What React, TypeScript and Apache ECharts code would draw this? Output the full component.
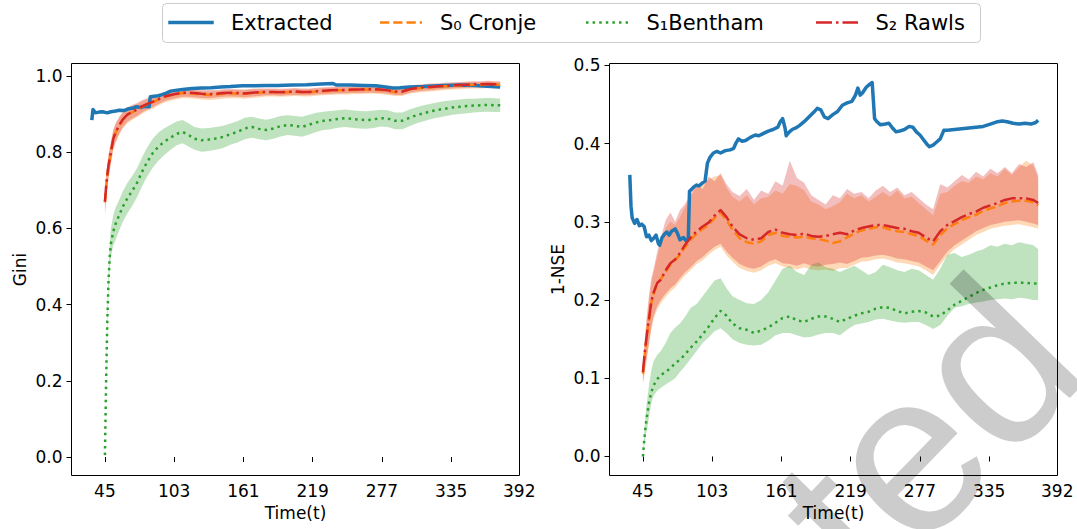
import React, { useEffect, useRef } from "react";
import * as echarts from "echarts";

// ---------------- data ----------------
const T = [45, 46, 47, 48, 49, 50,
  52, 54, 57, 60,
  64, 68, 72, 76, 80,
  85, 90, 95, 100, 105, 110, 115, 120,
  126, 132, 138, 144, 150, 156, 162, 168, 174, 180,
  186, 192, 198, 204, 210, 216, 222, 228, 234, 240,
  246, 252, 258, 264, 270, 276, 282, 288, 294, 300,
  306, 312, 318, 324, 330, 336, 342, 348, 354, 360,
  366, 372, 376];

const X_TICKS = [45, 103, 161, 219, 277, 335, 392];
const Y_TICKS_GINI = [0, 0.2, 0.4, 0.6, 0.8, 1.0];
const Y_TICKS_NSE = [0, 0.1, 0.2, 0.3, 0.4, 0.5];

// Extracted (observed) series
const EXT_T_GINI = [34, 35, 37, 40, 43, 47, 50, 54, 57, 61, 64, 68, 71, 75, 78, 82, 83, 88, 92, 96, 100, 104, 110, 118, 126, 134, 142, 150, 160, 170, 180, 190, 202, 214, 226, 236, 239, 250, 262, 272, 280, 286, 292, 300, 312, 325, 342, 355, 365, 376];
const EXT_GINI = [0.884, 0.912, 0.903, 0.905, 0.906, 0.903, 0.906, 0.908, 0.910, 0.909, 0.913, 0.915, 0.919, 0.917, 0.920, 0.919, 0.945, 0.947, 0.950, 0.954, 0.960, 0.962, 0.964, 0.967, 0.968, 0.969, 0.971, 0.972, 0.974, 0.974, 0.975, 0.975, 0.976, 0.977, 0.979, 0.980, 0.976, 0.976, 0.975, 0.974, 0.971, 0.968, 0.969, 0.971, 0.972, 0.974, 0.976, 0.975, 0.973, 0.971];

const EXT_T_NSE = [34, 35, 36, 38, 40, 42, 44, 46, 48, 50,
  52, 54, 56, 58, 59, 61, 63, 65, 67, 69,
  72, 74, 76, 79, 81, 83, 84, 86, 88, 90,
  92, 95, 97, 99, 101, 104, 107, 110, 114, 118,
  121, 123, 125, 128, 131, 135, 139, 142, 146, 150,
  154, 158, 160, 162, 164, 165, 167, 170, 173, 176,
  180, 184, 188, 191, 194, 197, 200, 204, 208, 212,
  216, 220, 223, 225, 227, 229, 232, 235, 237, 238,
  239, 241, 244, 248, 251, 254, 257, 260, 264, 268,
  271, 274, 277, 280, 283, 285, 288, 291, 294, 297,
  300, 306, 312, 318, 324, 330, 336, 342, 346, 350,
  355, 360, 365, 370, 374, 376];
const EXT_NSE = [0.360, 0.320, 0.305, 0.298, 0.303, 0.295, 0.297, 0.294, 0.281, 0.283,
  0.276, 0.279, 0.283, 0.272, 0.270, 0.280, 0.284, 0.287, 0.283, 0.288,
  0.291, 0.285, 0.277, 0.280, 0.276, 0.279, 0.339, 0.342, 0.345, 0.347,
  0.346, 0.350, 0.352, 0.375, 0.382, 0.388, 0.390, 0.388, 0.391, 0.392,
  0.394, 0.401, 0.406, 0.403, 0.404, 0.408, 0.411, 0.410, 0.413, 0.416,
  0.418, 0.421, 0.428, 0.432, 0.420, 0.410, 0.414, 0.418, 0.420, 0.423,
  0.428, 0.434, 0.440, 0.445, 0.443, 0.434, 0.432, 0.437, 0.441, 0.449,
  0.452, 0.454, 0.462, 0.471, 0.462, 0.465, 0.472, 0.476, 0.478, 0.455,
  0.432, 0.428, 0.424, 0.425, 0.426, 0.420, 0.415, 0.416, 0.418, 0.422,
  0.421, 0.415, 0.411, 0.405, 0.399, 0.396, 0.398, 0.402, 0.406, 0.417,
  0.417, 0.418, 0.419, 0.420, 0.421, 0.422, 0.425, 0.428, 0.429, 0.428,
  0.426, 0.425, 0.426, 0.425, 0.427, 0.430];

// Gini: S2 Rawls
const GINI_S2 = [0.670, 0.710, 0.740, 0.765, 0.782, 0.800,
  0.835, 0.852, 0.871, 0.886,
  0.899, 0.906, 0.912, 0.920, 0.926,
  0.932, 0.939, 0.946, 0.950, 0.953, 0.956, 0.956, 0.955,
  0.953, 0.952, 0.953, 0.955, 0.956, 0.955, 0.954, 0.956, 0.957, 0.958,
  0.958, 0.957, 0.958, 0.959, 0.958, 0.958, 0.960, 0.961, 0.962, 0.963,
  0.963, 0.964, 0.964, 0.965, 0.965, 0.964, 0.962, 0.959, 0.959, 0.965,
  0.968, 0.970, 0.971, 0.973, 0.974, 0.975, 0.976, 0.977, 0.978, 0.978,
  0.979, 0.978, 0.978];
const GINI_S2_HI = [0.700, 0.740, 0.770, 0.795, 0.810, 0.827,
  0.860, 0.876, 0.893, 0.906,
  0.918, 0.924, 0.929, 0.936, 0.941,
  0.946, 0.952, 0.958, 0.961, 0.964, 0.967, 0.967, 0.966,
  0.964, 0.963, 0.963, 0.965, 0.966, 0.965, 0.964, 0.966, 0.967, 0.967,
  0.967, 0.966, 0.967, 0.968, 0.967, 0.967, 0.969, 0.970, 0.971, 0.972,
  0.972, 0.973, 0.973, 0.974, 0.974, 0.973, 0.971, 0.968, 0.968, 0.974,
  0.977, 0.979, 0.980, 0.981, 0.982, 0.983, 0.984, 0.985, 0.986, 0.986,
  0.987, 0.986, 0.986];
const GINI_S2_LO = [0.640, 0.680, 0.710, 0.735, 0.754, 0.773,
  0.810, 0.828, 0.849, 0.866,
  0.880, 0.888, 0.895, 0.904, 0.911,
  0.918, 0.926, 0.934, 0.939, 0.942, 0.945, 0.945, 0.944,
  0.942, 0.941, 0.943, 0.945, 0.946, 0.945, 0.944, 0.946, 0.947, 0.949,
  0.949, 0.948, 0.949, 0.950, 0.949, 0.949, 0.951, 0.952, 0.953, 0.954,
  0.954, 0.955, 0.955, 0.956, 0.956, 0.955, 0.953, 0.950, 0.950, 0.956,
  0.959, 0.961, 0.962, 0.964, 0.966, 0.967, 0.968, 0.969, 0.970, 0.970,
  0.971, 0.970, 0.970];

// Gini: S0 Cronje
const GINI_S0 = [0.668, 0.707, 0.738, 0.763, 0.781, 0.799,
  0.833, 0.851, 0.870, 0.885,
  0.898, 0.905, 0.911, 0.919, 0.925,
  0.931, 0.938, 0.945, 0.949, 0.952, 0.955, 0.954, 0.953,
  0.951, 0.950, 0.951, 0.953, 0.954, 0.954, 0.953, 0.955, 0.956, 0.957,
  0.957, 0.956, 0.957, 0.958, 0.957, 0.957, 0.959, 0.960, 0.961, 0.962,
  0.962, 0.963, 0.963, 0.964, 0.964, 0.963, 0.961, 0.958, 0.958, 0.964,
  0.967, 0.969, 0.970, 0.972, 0.973, 0.974, 0.975, 0.976, 0.977, 0.977,
  0.978, 0.977, 0.977];
const GINI_S0_HI = [0.695, 0.735, 0.765, 0.790, 0.806, 0.823,
  0.856, 0.873, 0.890, 0.903,
  0.915, 0.921, 0.926, 0.933, 0.938,
  0.943, 0.949, 0.955, 0.958, 0.961, 0.964, 0.963, 0.962,
  0.960, 0.959, 0.960, 0.962, 0.963, 0.963, 0.962, 0.964, 0.965, 0.965,
  0.965, 0.964, 0.965, 0.966, 0.965, 0.965, 0.967, 0.968, 0.969, 0.970,
  0.970, 0.971, 0.971, 0.972, 0.972, 0.971, 0.969, 0.966, 0.966, 0.972,
  0.975, 0.977, 0.978, 0.979, 0.980, 0.981, 0.982, 0.983, 0.984, 0.984,
  0.985, 0.984, 0.984];
const GINI_S0_LO = [0.635, 0.673, 0.703, 0.728, 0.748, 0.767,
  0.804, 0.823, 0.845, 0.862,
  0.876, 0.885, 0.892, 0.900, 0.907,
  0.914, 0.922, 0.930, 0.935, 0.939, 0.942, 0.941, 0.940,
  0.938, 0.937, 0.938, 0.940, 0.941, 0.941, 0.940, 0.942, 0.943, 0.946,
  0.946, 0.945, 0.946, 0.947, 0.946, 0.946, 0.948, 0.949, 0.950, 0.951,
  0.951, 0.952, 0.952, 0.953, 0.953, 0.952, 0.950, 0.947, 0.947, 0.953,
  0.956, 0.958, 0.959, 0.961, 0.963, 0.964, 0.965, 0.966, 0.967, 0.967,
  0.968, 0.967, 0.967];

// Gini: S1 Bentham
const GINI_S1 = [0.005, 0.200, 0.360, 0.460, 0.525, 0.560,
  0.592, 0.612, 0.635, 0.657,
  0.680, 0.699, 0.720, 0.748, 0.772,
  0.797, 0.815, 0.828, 0.838, 0.848, 0.853, 0.845, 0.835,
  0.831, 0.833, 0.836, 0.840, 0.847, 0.853, 0.862, 0.866, 0.861, 0.858,
  0.862, 0.868, 0.871, 0.869, 0.866, 0.872, 0.878, 0.882, 0.884, 0.887,
  0.889, 0.887, 0.885, 0.884, 0.886, 0.889, 0.888, 0.882, 0.882, 0.890,
  0.897, 0.902, 0.907, 0.911, 0.914, 0.917, 0.919, 0.921, 0.922, 0.923,
  0.924, 0.923, 0.923];
const GINI_S1_HI = [0.010, 0.220, 0.385, 0.490, 0.560, 0.600,
  0.635, 0.655, 0.675, 0.697,
  0.720, 0.738, 0.758, 0.786, 0.810,
  0.835, 0.852, 0.863, 0.872, 0.880, 0.884, 0.876, 0.866,
  0.862, 0.863, 0.866, 0.869, 0.875, 0.881, 0.890, 0.893, 0.888, 0.885,
  0.889, 0.895, 0.897, 0.895, 0.893, 0.898, 0.903, 0.906, 0.908, 0.910,
  0.912, 0.910, 0.908, 0.907, 0.909, 0.911, 0.910, 0.904, 0.904, 0.912,
  0.918, 0.923, 0.927, 0.931, 0.934, 0.936, 0.938, 0.940, 0.940, 0.941,
  0.942, 0.941, 0.940];
const GINI_S1_LO = [0.000, 0.180, 0.335, 0.430, 0.495, 0.525,
  0.555, 0.570, 0.595, 0.617,
  0.640, 0.660, 0.682, 0.710, 0.734,
  0.759, 0.778, 0.793, 0.806, 0.818, 0.823, 0.815, 0.806,
  0.801, 0.803, 0.806, 0.811, 0.819, 0.825, 0.834, 0.838, 0.834, 0.831,
  0.835, 0.841, 0.845, 0.843, 0.840, 0.846, 0.853, 0.858, 0.860, 0.864,
  0.866, 0.864, 0.862, 0.861, 0.863, 0.867, 0.866, 0.860, 0.860, 0.868,
  0.876, 0.881, 0.887, 0.891, 0.894, 0.898, 0.900, 0.902, 0.904, 0.905,
  0.906, 0.905, 0.905];

// 1-NSE: S2 Rawls
const NSE_S2 = [0.108, 0.125, 0.140, 0.152, 0.165, 0.175,
  0.198, 0.210, 0.222, 0.226,
  0.238, 0.247, 0.252, 0.260, 0.270,
  0.280, 0.288, 0.294, 0.299, 0.308, 0.315, 0.306, 0.294,
  0.284, 0.279, 0.277, 0.279, 0.287, 0.290, 0.286, 0.284, 0.283, 0.285,
  0.282, 0.281, 0.282, 0.284, 0.286, 0.284, 0.289, 0.292, 0.294, 0.296,
  0.296, 0.294, 0.292, 0.291, 0.288, 0.286, 0.280, 0.275, 0.288, 0.296,
  0.301, 0.306, 0.310, 0.313, 0.318, 0.321, 0.324, 0.328, 0.330, 0.330,
  0.330, 0.328, 0.324];
const NSE_S2_HI = [0.118, 0.138, 0.158, 0.175, 0.190, 0.205,
  0.228, 0.240, 0.262, 0.280,
  0.302, 0.312, 0.300, 0.315, 0.322,
  0.336, 0.348, 0.342, 0.358, 0.352, 0.362, 0.348, 0.338,
  0.333, 0.342, 0.328, 0.340, 0.336, 0.352, 0.346, 0.378, 0.356, 0.350,
  0.334, 0.328, 0.322, 0.334, 0.330, 0.342, 0.336, 0.338, 0.330, 0.340,
  0.346, 0.338, 0.344, 0.334, 0.338, 0.330, 0.322, 0.316, 0.348, 0.344,
  0.352, 0.360, 0.354, 0.364, 0.358, 0.368, 0.362, 0.370, 0.362, 0.374,
  0.370, 0.376, 0.360];
const NSE_S2_LO = [0.095, 0.105, 0.115, 0.125, 0.135, 0.145,
  0.165, 0.180, 0.192, 0.200,
  0.208, 0.215, 0.220, 0.228, 0.235,
  0.242, 0.250, 0.255, 0.262, 0.268, 0.272, 0.262, 0.254,
  0.246, 0.242, 0.240, 0.243, 0.249, 0.252, 0.247, 0.246, 0.244, 0.247,
  0.244, 0.243, 0.245, 0.246, 0.248, 0.246, 0.250, 0.254, 0.255, 0.257,
  0.258, 0.256, 0.253, 0.252, 0.250, 0.248, 0.243, 0.238, 0.250, 0.262,
  0.270, 0.276, 0.282, 0.288, 0.292, 0.296, 0.298, 0.300, 0.301, 0.302,
  0.300, 0.298, 0.296];

// 1-NSE: S0 Cronje
const NSE_S0 = [0.106, 0.122, 0.137, 0.150, 0.163, 0.174,
  0.196, 0.208, 0.221, 0.227,
  0.236, 0.245, 0.251, 0.258, 0.267,
  0.277, 0.285, 0.291, 0.296, 0.305, 0.312, 0.302, 0.290,
  0.279, 0.274, 0.272, 0.275, 0.283, 0.286, 0.282, 0.281, 0.280, 0.281,
  0.279, 0.278, 0.276, 0.273, 0.275, 0.280, 0.285, 0.289, 0.291, 0.293,
  0.293, 0.290, 0.288, 0.287, 0.284, 0.282, 0.276, 0.271, 0.283, 0.292,
  0.297, 0.302, 0.306, 0.309, 0.314, 0.317, 0.320, 0.324, 0.326, 0.327,
  0.327, 0.325, 0.321];
const NSE_S0_HI = [0.115, 0.134, 0.152, 0.170, 0.185, 0.198,
  0.222, 0.236, 0.255, 0.272,
  0.292, 0.300, 0.296, 0.306, 0.318,
  0.332, 0.345, 0.352, 0.354, 0.358, 0.360, 0.344, 0.332,
  0.326, 0.334, 0.322, 0.330, 0.332, 0.340, 0.336, 0.348, 0.346, 0.340,
  0.326, 0.322, 0.316, 0.320, 0.325, 0.336, 0.330, 0.334, 0.326, 0.332,
  0.338, 0.332, 0.340, 0.330, 0.332, 0.324, 0.316, 0.308, 0.336, 0.338,
  0.346, 0.352, 0.350, 0.358, 0.354, 0.362, 0.358, 0.368, 0.360, 0.370,
  0.378, 0.372, 0.356];
const NSE_S0_LO = [0.093, 0.102, 0.112, 0.121, 0.131, 0.141,
  0.161, 0.176, 0.188, 0.196,
  0.204, 0.211, 0.216, 0.224, 0.231,
  0.238, 0.246, 0.251, 0.258, 0.264, 0.268, 0.257, 0.249,
  0.241, 0.237, 0.235, 0.238, 0.244, 0.247, 0.243, 0.241, 0.239, 0.242,
  0.239, 0.238, 0.239, 0.237, 0.241, 0.241, 0.245, 0.249, 0.250, 0.252,
  0.253, 0.251, 0.248, 0.247, 0.245, 0.243, 0.238, 0.232, 0.245, 0.257,
  0.265, 0.271, 0.277, 0.283, 0.287, 0.291, 0.293, 0.295, 0.296, 0.297,
  0.295, 0.293, 0.291];

// 1-NSE: S1 Bentham
const NSE_S1 = [0.000, 0.020, 0.035, 0.048, 0.058, 0.068,
  0.082, 0.091, 0.099, 0.104,
  0.108, 0.113, 0.119, 0.124, 0.130,
  0.139, 0.147, 0.156, 0.166, 0.177, 0.186, 0.180, 0.170,
  0.164, 0.162, 0.158, 0.161, 0.165, 0.171, 0.177, 0.179, 0.174, 0.172,
  0.176, 0.179, 0.179, 0.176, 0.172, 0.176, 0.180, 0.183, 0.185, 0.189,
  0.191, 0.190, 0.186, 0.183, 0.185, 0.186, 0.184, 0.179, 0.180, 0.187,
  0.194, 0.199, 0.204, 0.209, 0.213, 0.216, 0.219, 0.221, 0.222, 0.222,
  0.222, 0.221, 0.221];
const NSE_S1_HI = [0.000, 0.030, 0.050, 0.065, 0.078, 0.090,
  0.110, 0.122, 0.130, 0.135,
  0.145, 0.158, 0.165, 0.170, 0.178,
  0.190, 0.195, 0.205, 0.215, 0.225, 0.228, 0.215, 0.205,
  0.200, 0.196, 0.195, 0.200, 0.210, 0.225, 0.240, 0.244, 0.236, 0.232,
  0.245, 0.248, 0.242, 0.240, 0.236, 0.240, 0.244, 0.238, 0.232, 0.236,
  0.245, 0.242, 0.238, 0.236, 0.240, 0.238, 0.232, 0.226, 0.240, 0.258,
  0.260, 0.255, 0.258, 0.262, 0.265, 0.270, 0.268, 0.272, 0.270, 0.274,
  0.272, 0.270, 0.265];
const NSE_S1_LO = [0.000, 0.012, 0.022, 0.032, 0.040, 0.050,
  0.068, 0.078, 0.084, 0.088,
  0.092, 0.096, 0.100, 0.108, 0.115,
  0.125, 0.135, 0.145, 0.152, 0.160, 0.164, 0.158, 0.150,
  0.145, 0.143, 0.142, 0.143, 0.148, 0.155, 0.158, 0.158, 0.155, 0.152,
  0.153, 0.156, 0.158, 0.158, 0.155, 0.162, 0.168, 0.170, 0.172, 0.175,
  0.176, 0.174, 0.172, 0.171, 0.172, 0.172, 0.168, 0.163, 0.168, 0.180,
  0.190, 0.192, 0.195, 0.197, 0.198, 0.200, 0.201, 0.202, 0.201, 0.203,
  0.202, 0.200, 0.200];

const LEGEND_LABELS = ["Extracted", "S\u2080 Cronje", "S\u2081Bentham", "S\u2082 Rawls"];
const WATERMARK = "ted";

// ---------------- styling ----------------
const FONT = "DejaVu Sans";
const C_BLUE = "#1f77b4";
const C_ORANGE = "#ff7f0e";
const C_GREEN = "#2ca02c";
const C_RED = "#d62728";
const DASH_ORANGE = [9.25, 4];
const DASH_GREEN = [2.5, 4.1];
const DASH_RED = [16, 4, 2.5, 4];

function band(idx: number, lo: number[], hi: number[], fill: string) {
  return {
    type: "custom",
    coordinateSystem: "cartesian2d",
    xAxisIndex: idx,
    yAxisIndex: idx,
    silent: true,
    clip: true,
    data: [[T[0], lo[0]]],
    renderItem: (_params: any, api: any) => {
      const pts: number[][] = [];
      for (let i = 0; i < T.length; i++) pts.push(api.coord([T[i], hi[i]]));
      for (let i = T.length - 1; i >= 0; i--) pts.push(api.coord([T[i], lo[i]]));
      return { type: "polygon", shape: { points: pts }, style: { fill } };
    },
  };
}

function line(idx: number, name: string, xs: number[], ys: number[], color: string, width: number, dash: any) {
  return {
    type: "line",
    name,
    xAxisIndex: idx,
    yAxisIndex: idx,
    data: xs.map((x, i) => [x, ys[i]]),
    symbol: "none",
    showSymbol: false,
    silent: true,
    clip: true,
    lineStyle: { color, width, type: dash, cap: "butt", join: "round" },
    emphasis: { disabled: true },
  };
}

function xAxis(idx: number) {
  return {
    type: "value",
    gridIndex: idx,
    min: 17,
    max: 392.2,
    name: "Time(t)",
    nameLocation: "middle",
    nameGap: 28,
    nameTextStyle: { fontSize: 17, color: "#000", fontFamily: FONT },
    axisLine: { show: false },
    axisTick: { show: true, length: 5, customValues: X_TICKS, lineStyle: { color: "#000", width: 1 } },
    axisLabel: { show: true, customValues: X_TICKS, fontSize: 17, color: "#000", fontFamily: FONT, margin: 7, formatter: (v: number) => String(v) },
    splitLine: { show: false },
  };
}

function yAxis(idx: number, name: string, min: number, max: number, ticks: number[]) {
  return {
    type: "value",
    gridIndex: idx,
    min,
    max,
    name,
    nameLocation: "middle",
    nameGap: 43,
    nameTextStyle: { fontSize: 17, color: "#000", fontFamily: FONT },
    axisLine: { show: false },
    axisTick: { show: true, length: 5, customValues: ticks, lineStyle: { color: "#000", width: 1 } },
    axisLabel: { show: true, customValues: ticks, fontSize: 17, color: "#000", fontFamily: FONT, margin: 9, formatter: (v: number) => v.toFixed(1) },
    splitLine: { show: false },
  };
}

function legendGraphics() {
  const yc = 22.5;
  const items = [
    { x1: 170, x2: 212, tx: 231, color: C_BLUE, width: 3.5, dash: null, cap: "square" },
    { x1: 380, x2: 422, tx: 440, color: C_ORANGE, width: 2.5, dash: DASH_ORANGE, cap: "butt" },
    { x1: 586, x2: 628, tx: 646.5, color: C_GREEN, width: 2.5, dash: DASH_GREEN, cap: "butt" },
    { x1: 816, x2: 858, tx: 875.5, color: C_RED, width: 2.5, dash: DASH_RED, cap: "butt" },
  ];
  const els: any[] = [
    {
      type: "rect",
      silent: true,
      shape: { x: 162.5, y: 3.5, width: 818, height: 39, r: 4 },
      style: { fill: "rgba(255,255,255,0.8)", stroke: "#cccccc", lineWidth: 1 },
      z: 50,
    },
  ];
  items.forEach((it, i) => {
    els.push({
      type: "line",
      silent: true,
      shape: { x1: it.x1, y1: yc, x2: it.x2, y2: yc },
      style: { stroke: it.color, lineWidth: it.width, lineDash: it.dash || undefined, lineCap: it.cap },
      z: 51,
    });
    els.push({
      type: "text",
      silent: true,
      x: it.tx,
      y: yc,
      style: {
        text: LEGEND_LABELS[i],
        fontSize: 21,
        fontFamily: FONT,
        fill: "#000",
        align: "left",
        textAlign: "left",
        verticalAlign: "middle",
        textVerticalAlign: "middle",
      },
      z: 51,
    });
  });
  return els;
}

const option: any = {
  animation: false,
  backgroundColor: "#ffffff",
  grid: [
    { left: 71.5, top: 63.5, width: 448, height: 412, show: true, borderColor: "#000", borderWidth: 1, backgroundColor: "transparent", containLabel: false, outerBoundsMode: "none" },
    { left: 609.5, top: 63.5, width: 448, height: 412, show: true, borderColor: "#000", borderWidth: 1, backgroundColor: "transparent", containLabel: false, outerBoundsMode: "none" },
  ],
  xAxis: [xAxis(0), xAxis(1)],
  yAxis: [
    yAxis(0, "Gini", -0.0485, 1.0325, Y_TICKS_GINI),
    yAxis(1, "1-NSE", -0.0243, 0.5024, Y_TICKS_NSE),
  ],
  series: [
    band(0, GINI_S0_LO, GINI_S0_HI, "rgba(255,127,14,0.3)"),
    band(0, GINI_S1_LO, GINI_S1_HI, "rgba(44,160,44,0.3)"),
    band(0, GINI_S2_LO, GINI_S2_HI, "rgba(214,39,40,0.3)"),
    band(1, NSE_S0_LO, NSE_S0_HI, "rgba(255,127,14,0.3)"),
    band(1, NSE_S1_LO, NSE_S1_HI, "rgba(44,160,44,0.3)"),
    band(1, NSE_S2_LO, NSE_S2_HI, "rgba(214,39,40,0.3)"),
    line(0, "Extracted", EXT_T_GINI, EXT_GINI, C_BLUE, 3.5, "solid"),
    line(0, "S0 Cronje", T, GINI_S0, C_ORANGE, 2.5, DASH_ORANGE),
    line(0, "S1 Bentham", T, GINI_S1, C_GREEN, 2.5, DASH_GREEN),
    line(0, "S2 Rawls", T, GINI_S2, C_RED, 2.5, DASH_RED),
    line(1, "Extracted", EXT_T_NSE, EXT_NSE, C_BLUE, 3.5, "solid"),
    line(1, "S0 Cronje", T, NSE_S0, C_ORANGE, 2.5, DASH_ORANGE),
    line(1, "S1 Bentham", T, NSE_S1, C_GREEN, 2.5, DASH_GREEN),
    line(1, "S2 Rawls", T, NSE_S2, C_RED, 2.5, DASH_RED),
  ],
  graphic: [
    ...legendGraphics(),
    {
      type: "text",
      silent: true,
      x: 926,
      y: 433,
      rotation: (46 * Math.PI) / 180,
      style: {
        text: WATERMARK,
        fontSize: 229,
        fontFamily: "Liberation Sans",
        fill: "rgba(0,0,0,0.2)",
        align: "center",
        textAlign: "center",
        verticalAlign: "middle",
        textVerticalAlign: "middle",
      },
      z: 100,
    },
  ],
};

export default function App() {
  const ref = useRef<HTMLDivElement>(null);
  useEffect(() => {
    document.body.style.margin = "0";
    const chart = echarts.init(ref.current as HTMLDivElement, null, { renderer: "svg" });
    chart.setOption(option);
    return () => chart.dispose();
  }, []);
  return (
    <div
      ref={ref}
      style={{ position: "fixed", left: 0, top: 0, width: 1077, height: 529, background: "#fff" }}
    />
  );
}
